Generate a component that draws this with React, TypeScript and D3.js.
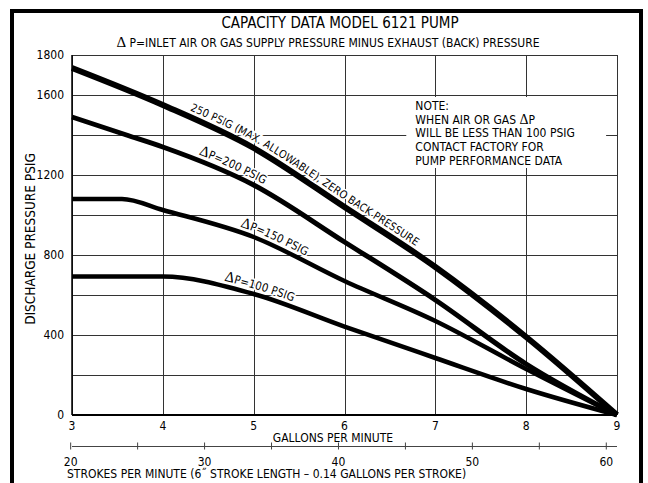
import * as d3 from "d3";
import { useEffect, useRef } from "react";

// gallons per minute axis
const gpmTicks = [3, 4, 5, 6, 7, 8, 9];
// pressure axis: labelled values and grid values
const psiLabels = [0, 400, 800, 1200, 1600, 1800];
const psiGrid = [0, 200, 400, 600, 800, 1000, 1200, 1400, 1600, 1800];
// strokes per minute axis
const strokeLabels = [20, 30, 40, 50, 60];
const strokeMinor = [25, 35, 45, 55];

// curves read from the sheet
const gpm250 = [3, 4, 5, 6, 7, 8, 9];
const psi250 = [1735, 1550, 1335, 1040, 740, 390, 0];
const gpm200 = [3, 3.6, 4, 5, 6, 7, 8, 9];
const psi200 = [1490, 1400, 1340, 1150, 865, 575, 255, 0];
const gpm150 = [3, 3.55, 4, 5, 6, 7, 8, 9];
const psi150 = [1080, 1080, 1025, 890, 670, 470, 230, 0];
const gpm100 = [3, 4, 5, 6, 7, 8, 9];
const psi100 = [692, 692, 605, 442, 285, 130, 0];

const noteLines = [
  "NOTE:",
  "WHEN AIR OR GAS \u0394P",
  "WILL BE LESS THAN 100 PSIG",
  "CONTACT FACTORY FOR",
  "PUMP PERFORMANCE DATA",
];

const FONT = "'Liberation Sans Narrow', 'Arial Narrow', 'DejaVu Sans Condensed', 'Liberation Sans', sans-serif";
const SERIF = "'Liberation Serif', 'DejaVu Serif', serif";

const App = () => {
  const svgRef = useRef<SVGSVGElement>(null);
  const W = 648;
  const H = 483;

  useEffect(() => {
    const svg = d3.select(svgRef.current);
    svg.selectAll("*").remove();

    const x = d3.scaleLinear().domain([3, 9]).range([72, 617]);
    const y = d3.scaleLinear().domain([0, 1800]).range([415, 55]);
    const xs = d3.scaleLinear().domain([20.1, 60.8]).range([72, 617]);

    svg.append("rect").attr("width", W).attr("height", H).attr("fill", "#fff");

    //рамка
    svg.append("path")
      .attr("d", `M12,${H + 5} L12,11 L641,11 L641,${H + 5}`)
      .attr("fill", "none").attr("stroke", "#000").attr("stroke-width", 4);

    //заголовок
    svg.append("text")
      .attr("x", 340).attr("y", 28).attr("text-anchor", "middle")
      .style("font-family", FONT).style("font-size", "15px")
      .text("CAPACITY DATA MODEL 6121 PUMP");
    const sub = svg.append("text")
      .attr("x", 328).attr("y", 47).attr("text-anchor", "middle")
      .style("font-family", FONT).style("font-size", "12px");
    sub.append("tspan").style("font-family", SERIF).style("font-size", "15px").text("\u0394");
    sub.append("tspan").text(" P=INLET AIR OR GAS SUPPLY PRESSURE MINUS EXHAUST (BACK) PRESSURE");

    //сетка
    const grid = svg.append("g").attr("stroke", "#333").attr("stroke-width", 1);
    grid.selectAll(".h").data(psiGrid).enter().append("line")
      .attr("x1", x(3)).attr("x2", x(9))
      .attr("y1", d => Math.round(y(d)) + 0.5).attr("y2", d => Math.round(y(d)) + 0.5);
    grid.selectAll(".v").data(gpmTicks).enter().append("line")
      .attr("y1", y(0)).attr("y2", y(1800))
      .attr("x1", d => Math.round(x(d)) + 0.5).attr("x2", d => Math.round(x(d)) + 0.5);

    //оси
    svg.append("line").attr("x1", x(3)).attr("x2", x(3)).attr("y1", y(0)).attr("y2", y(1800))
      .attr("stroke", "#000").attr("stroke-width", 1.5);
    svg.append("line").attr("x1", x(3)).attr("x2", x(9)).attr("y1", y(0)).attr("y2", y(0))
      .attr("stroke", "#000").attr("stroke-width", 2);

    //белый фон под примечанием
    svg.append("rect")
      .attr("x", x(6.68)).attr("y", y(1590))
      .attr("width", x(8.88) - x(6.68)).attr("height", y(1235) - y(1590))
      .attr("fill", "#fff");

    const note = svg.append("text")
      .style("font-family", FONT).style("font-size", "12px");
    noteLines.forEach((t, i) => {
      const ts = note.append("tspan").attr("x", x(6.78)).attr("y", y(1590) + 13 + i * 13.7);
      if (t.includes("\u0394")) {
        const [a, b] = t.split("\u0394");
        ts.append("tspan").text(a);
        ts.append("tspan").style("font-family", SERIF).style("font-size", "14px").text("\u0394");
        ts.append("tspan").text(b);
      } else ts.text(t);
    });

    //подписи оси y
    svg.selectAll(".ylab").data(psiLabels).enter().append("text")
      .attr("x", 64).attr("y", d => y(d) + 4).attr("text-anchor", "end")
      .style("font-family", FONT).style("font-size", "12px")
      .text(d => d);
    svg.append("text")
      .attr("transform", `translate(35,${y(880)}) rotate(-90)`)
      .attr("text-anchor", "middle")
      .style("font-family", FONT).style("font-size", "13.5px")
      .text("DISCHARGE PRESSURE PSIG");

    //подписи оси x
    svg.selectAll(".xlab").data(gpmTicks).enter().append("text")
      .attr("x", d => x(d)).attr("y", y(0) + 15).attr("text-anchor", "middle")
      .style("font-family", FONT).style("font-size", "12px")
      .text(d => d);
    svg.append("text")
      .attr("x", 333).attr("y", y(0) + 27).attr("text-anchor", "middle")
      .style("font-family", FONT).style("font-size", "12px")
      .text("GALLONS PER MINUTE");

    //шкала ходов
    const sy = 446.5;
    svg.append("line").attr("x1", x(3)).attr("x2", x(9)).attr("y1", sy).attr("y2", sy)
      .attr("stroke", "#444").attr("stroke-width", 1);
    svg.selectAll(".stick").data(strokeLabels.concat(strokeMinor)).enter().append("line")
      .attr("x1", d => xs(d)).attr("x2", d => xs(d)).attr("y1", sy - 4).attr("y2", sy + 3)
      .attr("stroke", "#444").attr("stroke-width", 1);
    svg.selectAll(".slab").data(strokeLabels).enter().append("text")
      .attr("x", d => xs(d)).attr("y", sy + 19).attr("text-anchor", "middle")
      .style("font-family", FONT).style("font-size", "12px")
      .text(d => d);
    svg.append("text")
      .attr("x", 67).attr("y", sy + 31)
      .style("font-family", FONT).style("font-size", "12px")
      .text("STROKES PER MINUTE (6\u02dd STROKE LENGTH \u2013 0.14 GALLONS PER STROKE)");

    //кривые
    const line = d3.line<[number, number]>()
      .x(d => x(d[0])).y(d => y(d[1]))
      .curve(d3.curveMonotoneX);
    const curves = [
      { id: "c250", gx: gpm250, py: psi250, w: 6, fs: 11, start: 4.27, delta: "", label: "250 PSIG (MAX. ALLOWABLE), ZERO BACK PRESSURE" },
      { id: "c200", gx: gpm200, py: psi200, w: 5, fs: 11.5, start: 4.37, delta: "\u0394", label: "P=200 PSIG" },
      { id: "c150", gx: gpm150, py: psi150, w: 4.5, fs: 11.5, start: 4.83, delta: "\u0394", label: "P=150 PSIG" },
      { id: "c100", gx: gpm100, py: psi100, w: 4.5, fs: 11.5, start: 4.66, delta: "\u0394", label: "P=100 PSIG" },
    ];

    curves.forEach(c => {
      const pts = c.gx.map((g, i) => [g, c.py[i]] as [number, number]);
      const p = svg.append("path")
        .attr("id", c.id)
        .attr("d", line(pts))
        .attr("fill", "none").attr("stroke", "#000")
        .attr("stroke-width", c.w);

      //длина пути до начала подписи
      const node = p.node() as SVGPathElement;
      const target = x(c.start);
      let lo = 0, hi = node.getTotalLength();
      for (let i = 0; i < 30; i++) {
        const mid = (lo + hi) / 2;
        if (node.getPointAtLength(mid).x < target) lo = mid; else hi = mid;
      }

      const t = svg.append("text")
        .attr("dy", -(c.w / 2 + 3))
        .style("font-family", FONT).style("font-size", `${c.fs}px`)
        .attr("stroke", "#fff").attr("stroke-width", 3)
        .style("paint-order", "stroke");
      const tp = t.append("textPath").attr("href", `#${c.id}`).attr("startOffset", lo);
      if (c.delta) tp.append("tspan").style("font-family", SERIF).style("font-size", "15px").text(c.delta);
      tp.append("tspan").text(c.label);
    });
  }, []);

  return (
    <svg ref={svgRef} width={W} height={H}
      style={{ position: "absolute", left: 0, top: 0, display: "block" }} />
  );
};

export default App;
